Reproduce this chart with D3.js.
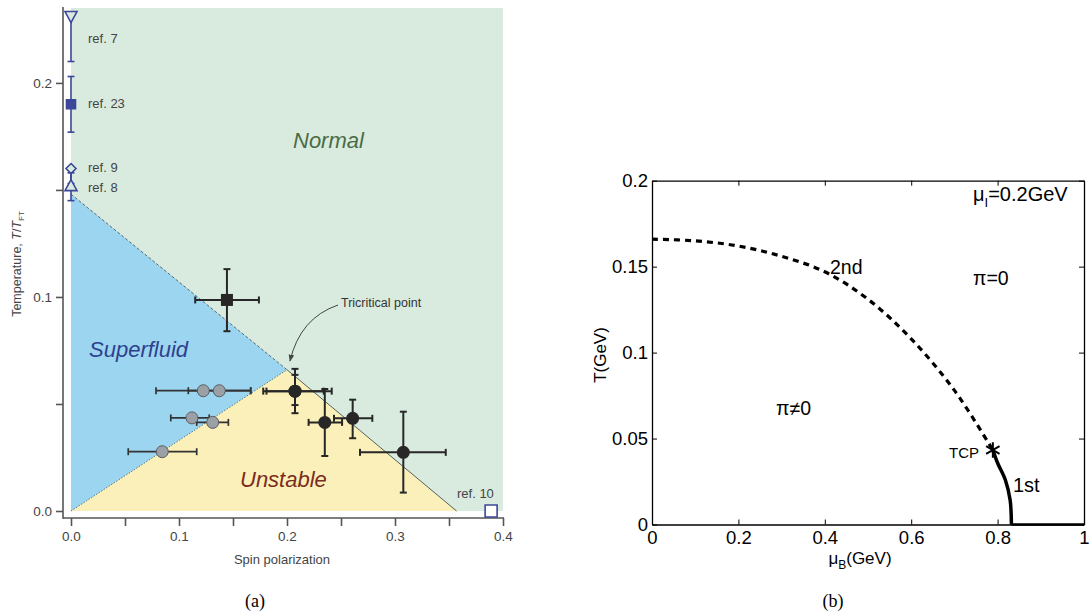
<!DOCTYPE html>
<html>
<head>
<meta charset="utf-8">
<script src="https://cdn.jsdelivr.net/npm/d3@7"></script>
<style>
  body { margin: 0; background: #fff; }
  svg { display: block; }
</style>
</head>
<body>
<div id="chart"></div>
<script>

// ---------- panel (a) : spin polarization vs temperature ----------
const xTicksA = [0, 0.05, 0.1, 0.15, 0.2, 0.25, 0.3, 0.35, 0.4];
const yTicksA = [0, 0.05, 0.1, 0.15, 0.2];
const labelledA = [0, 0.1, 0.2, 0.3, 0.4];

const tcpA = [0.2, 0.066];          // tricritical point
const superfluidTopT = 0.148;       // boundary hits P = 0
const unstableEndP = 0.357;         // boundary hits T = 0
const topT = 0.235;

// references on the axes (blue)
const refNames = ["ref. 7", "ref. 23", "ref. 9", "ref. 8", "ref. 10"];
const refP = [0, 0, 0, 0, 0.389];
const refT = [0.231, 0.190, 0.160, 0.152, 0.0];
const refTlo = [0.210, 0.177, 0.153, 0.145, null];
const refThi = [null, 0.203, null, 0.158, null];
const refShape = ["triDown", "square", "diamond", "triUp", "openSquare"];

// experiment, dark circles
const darkP = [0.2074, 0.2074, 0.235, 0.2608, 0.3077];
const darkT = [0.056, 0.056, 0.0414, 0.0433, 0.0274];
const darkPlo = [0.178, 0.181, 0.220, 0.2435, 0.2676];
const darkPhi = [0.234, 0.2414, 0.251, 0.279, 0.347];
const darkTlo = [0.0457, 0.0495, 0.0257, 0.034, 0.0086];
const darkThi = [0.0664, 0.0636, 0.057, 0.052, 0.0464];

// experiment, dark square
const sqP = [0.1444];
const sqT = [0.0986];
const sqPlo = [0.115];
const sqPhi = [0.174];
const sqTlo = [0.084];
const sqThi = [0.113];

// experiment, grey circles
const greyP = [0.1225, 0.1373, 0.112, 0.1312, 0.0845];
const greyT = [0.0562, 0.0562, 0.0435, 0.0414, 0.0277];
const greyPlo = [0.0787, 0.1086, 0.0924, 0.1164, 0.053];
const greyPhi = [0.1664, 0.1664, 0.128, 0.1457, 0.1164];

// ---------- panel (b) : mu_B vs T ----------
const xTicksB = [0, 0.2, 0.4, 0.6, 0.8, 1];
const yTicksB = [0, 0.05, 0.1, 0.15, 0.2];

const secondMu = [0, 0.1, 0.2, 0.3, 0.4, 0.5, 0.6, 0.7, 0.789];
const secondT = [0.166, 0.165, 0.162, 0.156, 0.147, 0.131, 0.108, 0.078, 0.0433];

const firstMu = [0.789, 0.800, 0.818, 0.829, 0.832];
const firstT = [0.0433, 0.0358, 0.0259, 0.0142, 0];

const floorMu = [0.832, 1.0];
const floorT = [0, 0];

const tcpB = [0.789, 0.0433];

const sans = "'Liberation Sans', Arial, Helvetica, sans-serif";
const serif = "'Liberation Serif', 'DejaVu Serif', serif";

const svg = d3.select("#chart")
    .append("svg")
    .attr("width", 1090)
    .attr("height", 616);

// ======================= panel (a) =======================
const xA = d3.scaleLinear().domain([0, 0.4]).range([71, 503]);
const yA = d3.scaleLinear().domain([0, topT]).range([511, 8]);
const lineA = d3.line().x(d => xA(d[0])).y(d => yA(d[1]));

const gA = svg.append("g");

// regions
gA.append("path")
    .attr("d", lineA([[0, 0], [0, topT], [0.4, topT], [0.4, 0]]) + "Z")
    .attr("fill", "#d9ebdf");

gA.append("path")
    .attr("d", lineA([[0, 0], [0, superfluidTopT], tcpA]) + "Z")
    .attr("fill", "#9bd5f0");

gA.append("path")
    .attr("d", lineA([[0, 0], tcpA, [unstableEndP, 0]]) + "Z")
    .attr("fill", "#fbf0ba");

// boundaries
gA.append("path")
    .attr("d", lineA([[0, superfluidTopT], tcpA]))
    .attr("fill", "none")
    .attr("stroke", "#4c5a66")
    .attr("stroke-width", 0.9)
    .attr("stroke-dasharray", "3,2");

gA.append("path")
    .attr("d", lineA([[0, 0], tcpA]))
    .attr("fill", "none")
    .attr("stroke", "#3f6a86")
    .attr("stroke-width", 0.9)
    .attr("stroke-dasharray", "1.5,1.5");

gA.append("path")
    .attr("d", lineA([tcpA, [unstableEndP, 0]]))
    .attr("fill", "none")
    .attr("stroke", "#55605a")
    .attr("stroke-width", 1);

// axes
const axisColor = "#555";

const xAxisA = d3.axisBottom(xA)
    .tickValues(xTicksA)
    .tickSize(8)
    .tickPadding(5)
    .tickFormat(d => labelledA.some(v => Math.abs(v - d) < 1e-9) ? d3.format(".1f")(d) : "");

const yAxisA = d3.axisLeft(yA)
    .tickValues(yTicksA)
    .tickSize(7)
    .tickPadding(4)
    .tickFormat(d => labelledA.some(v => Math.abs(v - d) < 1e-9) ? d3.format(".1f")(d) : "");

const xAxisGroupA = gA.append("g")
    .attr("transform", "translate(0, 518)")
    .call(xAxisA);

const yAxisGroupA = gA.append("g")
    .attr("transform", "translate(63, 0)")
    .call(yAxisA);

[xAxisGroupA, yAxisGroupA].forEach(g => {
    g.select(".domain").remove();
    g.selectAll(".tick line").attr("stroke", axisColor).attr("stroke-width", 1.6);
    g.selectAll(".tick text")
        .attr("fill", "#444")
        .style("font-family", sans)
        .style("font-size", "13.5px");
});

gA.append("line")
    .attr("x1", 63).attr("x2", 504)
    .attr("y1", 518).attr("y2", 518)
    .attr("stroke", axisColor).attr("stroke-width", 1.6);

gA.append("line")
    .attr("x1", 63).attr("x2", 63)
    .attr("y1", 7).attr("y2", 518.8)
    .attr("stroke", axisColor).attr("stroke-width", 1.6);

// axis titles
gA.append("text")
    .attr("x", 282)
    .attr("y", 564)
    .attr("text-anchor", "middle")
    .attr("fill", "#444")
    .style("font-family", sans)
    .style("font-size", "13px")
    .text("Spin polarization");

const yTitleA = gA.append("text")
    .attr("transform", "translate(20.5, 264) rotate(-90)")
    .attr("text-anchor", "middle")
    .attr("fill", "#444")
    .style("font-family", sans)
    .style("font-size", "12.5px");
yTitleA.append("tspan").text("Temperature, ");
yTitleA.append("tspan").attr("font-style", "italic").text("T");
yTitleA.append("tspan").text("/");
yTitleA.append("tspan").attr("font-style", "italic").text("T");
yTitleA.append("tspan").attr("dy", 3).style("font-size", "8px").text("FT");

// region labels
const regionLabels = [
    { text: "Normal", x: 293, y: 148, color: "#4b6b45" },
    { text: "Superfluid", x: 89, y: 357, color: "#2f3f8e" },
    { text: "Unstable", x: 240, y: 487, color: "#7c2b20" }
];
gA.selectAll(".region-label")
    .data(regionLabels)
    .join("text")
    .attr("class", "region-label")
    .attr("x", d => d.x)
    .attr("y", d => d.y)
    .attr("fill", d => d.color)
    .style("font-family", sans)
    .style("font-style", "italic")
    .style("font-size", "22px")
    .text(d => d.text);

// tricritical annotation
gA.append("text")
    .attr("x", 341)
    .attr("y", 307)
    .attr("fill", "#333")
    .style("font-family", sans)
    .style("font-size", "12.5px")
    .text("Tricritical point");

svg.append("defs").append("marker")
    .attr("id", "arrowA")
    .attr("viewBox", "0 0 10 10")
    .attr("refX", 9).attr("refY", 5)
    .attr("markerWidth", 7).attr("markerHeight", 7)
    .attr("orient", "auto")
    .append("path")
    .attr("d", "M0,1 L10,5 L0,9 Z")
    .attr("fill", "#444");

gA.append("path")
    .attr("d", "M338,305 Q300,318 290,361")
    .attr("fill", "none")
    .attr("stroke", "#444")
    .attr("stroke-width", 1)
    .attr("marker-end", "url(#arrowA)");

// error bar helpers
function hBar(g, p, lo, hi, t, color, w) {
    g.append("line")
        .attr("x1", xA(lo)).attr("x2", xA(hi))
        .attr("y1", yA(t)).attr("y2", yA(t))
        .attr("stroke", color).attr("stroke-width", w);
    [lo, hi].forEach(v => g.append("line")
        .attr("x1", xA(v)).attr("x2", xA(v))
        .attr("y1", yA(t) - 3.5).attr("y2", yA(t) + 3.5)
        .attr("stroke", color).attr("stroke-width", w));
}

function vBar(g, p, lo, hi, color, w) {
    const y1 = lo == null ? null : yA(lo);
    const y2 = hi == null ? null : yA(hi);
    g.append("line")
        .attr("x1", xA(p)).attr("x2", xA(p))
        .attr("y1", y1 == null ? yA(0) : y1)
        .attr("y2", y2 == null ? yA(0) : y2)
        .attr("stroke", color).attr("stroke-width", w);
    [y1, y2].forEach(y => {
        if (y == null) return;
        g.append("line")
            .attr("x1", xA(p) - 3.5).attr("x2", xA(p) + 3.5)
            .attr("y1", y).attr("y2", y)
            .attr("stroke", color).attr("stroke-width", w);
    });
}

const barsA = gA.append("g");
const dark = "#272727";

greyP.forEach((p, i) => hBar(barsA, p, greyPlo[i], greyPhi[i], greyT[i], "#333", 1.7));
sqP.forEach((p, i) => {
    hBar(barsA, p, sqPlo[i], sqPhi[i], sqT[i], dark, 2);
    vBar(barsA, p, sqTlo[i], sqThi[i], dark, 2);
});
darkP.forEach((p, i) => {
    hBar(barsA, p, darkPlo[i], darkPhi[i], darkT[i], dark, 2);
    vBar(barsA, p, darkTlo[i], darkThi[i], dark, 2);
});

// markers
gA.selectAll(".grey-pt")
    .data(greyP)
    .join("circle")
    .attr("class", "grey-pt")
    .attr("cx", d => xA(d))
    .attr("cy", (d, i) => yA(greyT[i]))
    .attr("r", 6)
    .attr("fill", "#9b9fa6")
    .attr("stroke", "#5a5d62")
    .attr("stroke-width", 1);

gA.selectAll(".sq-pt")
    .data(sqP)
    .join("rect")
    .attr("class", "sq-pt")
    .attr("x", d => xA(d) - 6)
    .attr("y", (d, i) => yA(sqT[i]) - 6)
    .attr("width", 12)
    .attr("height", 12)
    .attr("fill", dark);

gA.selectAll(".dark-pt")
    .data(darkP)
    .join("circle")
    .attr("class", "dark-pt")
    .attr("cx", d => xA(d))
    .attr("cy", (d, i) => yA(darkT[i]))
    .attr("r", 6.5)
    .attr("fill", dark);

// reference markers (blue)
const blue = "#3c4799";
const refG = gA.append("g");
refP.forEach((p, i) => {
    const cx = xA(p), cy = yA(refT[i]);
    const lo = refTlo[i], hi = refThi[i];
    if (lo != null) {
        const yLo = yA(lo), yHi = hi != null ? yA(hi) : cy;
        refG.append("line")
            .attr("x1", cx).attr("x2", cx).attr("y1", yLo).attr("y2", yHi)
            .attr("stroke", blue).attr("stroke-width", 1.6);
        refG.append("line")
            .attr("x1", cx - 3.5).attr("x2", cx + 3.5).attr("y1", yLo).attr("y2", yLo)
            .attr("stroke", blue).attr("stroke-width", 1.6);
        if (hi != null) {
            refG.append("line")
                .attr("x1", cx - 3.5).attr("x2", cx + 3.5).attr("y1", yHi).attr("y2", yHi)
                .attr("stroke", blue).attr("stroke-width", 1.6);
        }
    }
    const shape = refShape[i];
    let d;
    if (shape === "triDown") d = `M${cx - 6},${cy - 5} L${cx + 6},${cy - 5} L${cx},${cy + 6} Z`;
    if (shape === "triUp") d = `M${cx - 6},${cy + 5} L${cx + 6},${cy + 5} L${cx},${cy - 6} Z`;
    if (shape === "diamond") d = `M${cx},${cy - 5} L${cx + 5},${cy} L${cx},${cy + 5} L${cx - 5},${cy} Z`;
    if (shape === "square") d = `M${cx - 4.5},${cy - 4.5} h9 v9 h-9 Z`;
    if (shape === "openSquare") d = `M${cx - 6},${cy - 6} h12 v12 h-12 Z`;
    refG.append("path")
        .attr("d", d)
        .attr("fill", shape === "square" ? blue : (shape === "openSquare" ? "#fff" : "#d9ebdf"))
        .attr("stroke", blue)
        .attr("stroke-width", 1.6);
});

const refLabelPos = [[88, 43], [88, 108], [88, 172], [88, 192], [457, 498]];
refG.selectAll("text")
    .data(refNames)
    .join("text")
    .attr("x", (d, i) => refLabelPos[i][0])
    .attr("y", (d, i) => refLabelPos[i][1])
    .attr("fill", "#444")
    .style("font-family", sans)
    .style("font-size", "13px")
    .text(d => d);

svg.append("text")
    .attr("x", 255).attr("y", 607)
    .attr("text-anchor", "middle")
    .style("font-family", serif)
    .style("font-size", "18px")
    .text("(a)");

// ======================= panel (b) =======================
const xB = d3.scaleLinear().domain([0, 1]).range([652, 1084]);
const yB = d3.scaleLinear().domain([0, 0.2]).range([524.5, 180.7]);
const gB = svg.append("g");

const xAxisB = d3.axisBottom(xB).tickValues(xTicksB).tickSizeInner(-5).tickSizeOuter(0).tickPadding(6)
    .tickFormat(d => d3.format("~g")(d));
const yAxisB = d3.axisLeft(yB).tickValues(yTicksB).tickSizeInner(-5).tickSizeOuter(0).tickPadding(4)
    .tickFormat(d => d3.format("~g")(d));
const topAxisB = d3.axisTop(xB).tickValues(xTicksB).tickSizeInner(-5).tickSizeOuter(0).tickFormat("");
const rightAxisB = d3.axisRight(yB).tickValues(yTicksB).tickSizeInner(-5).tickSizeOuter(0).tickFormat("");

const axesB = [
    gB.append("g").attr("transform", `translate(0, ${yB(0)})`).call(xAxisB),
    gB.append("g").attr("transform", `translate(${xB(0)}, 0)`).call(yAxisB),
    gB.append("g").attr("transform", `translate(0, ${yB(0.2)})`).call(topAxisB),
    gB.append("g").attr("transform", `translate(${xB(1)}, 0)`).call(rightAxisB)
];
axesB.forEach(g => {
    g.select(".domain").attr("stroke", "#000").attr("stroke-width", 1.3);
    g.selectAll(".tick line").attr("stroke", "#000").attr("stroke-width", 1);
    g.selectAll(".tick text")
        .attr("fill", "#000")
        .style("font-family", sans)
        .style("font-size", "18.5px");
});

// curves
const lineB = d3.line().x(d => xB(d[0])).y(d => yB(d[1]));

gB.append("path")
    .attr("d", lineB.curve(d3.curveCatmullRom)(secondMu.map((m, i) => [m, secondT[i]])))
    .attr("fill", "none")
    .attr("stroke", "#000")
    .attr("stroke-width", 3.2)
    .attr("stroke-dasharray", "6,5");

gB.append("path")
    .attr("d", lineB.curve(d3.curveCatmullRom)(firstMu.map((m, i) => [m, firstT[i]])))
    .attr("fill", "none")
    .attr("stroke", "#000")
    .attr("stroke-width", 3.5);

gB.append("path")
    .attr("d", lineB.curve(d3.curveLinear)(floorMu.map((m, i) => [m, floorT[i]])))
    .attr("fill", "none")
    .attr("stroke", "#000")
    .attr("stroke-width", 2.6);

gB.append("path")
    .attr("transform", `translate(${xB(tcpB[0])}, ${yB(tcpB[1])})`)
    .attr("d", d3.symbol(d3.symbolAsterisk).size(170)())
    .attr("fill", "none")
    .attr("stroke", "#000")
    .attr("stroke-width", 2);

// annotations
function addText(g, x, y, size, parts, anchor) {
    const t = g.append("text")
        .attr("x", x).attr("y", y)
        .attr("text-anchor", anchor || "start")
        .attr("fill", "#000")
        .style("font-family", sans)
        .style("font-size", size + "px");
    parts.forEach(p => {
        const s = t.append("tspan").text(p.text);
        if (p.sub) s.attr("dy", p.dy).style("font-size", p.sub + "px");
        if (p.back) s.attr("dy", p.back);
    });
    return t;
}

addText(gB, 973, 201, 20, [{ text: "\u03bc" }, { text: "I", sub: 13, dy: 6 }, { text: "=0.2GeV", back: -6 }]);
addText(gB, 830, 274, 19.5, [{ text: "2nd" }]);
addText(gB, 973, 285, 19.5, [{ text: "\u03c0=0" }]);
addText(gB, 776, 415, 19.5, [{ text: "\u03c0\u22600" }]);
addText(gB, 949, 458, 15, [{ text: "TCP" }]);
addText(gB, 1013, 492, 20, [{ text: "1st" }]);

addText(gB, 860, 564, 17, [{ text: "\u03bc" }, { text: "B", sub: 12, dy: 5 }, { text: "(GeV)", back: -5 }], "middle");

gB.append("text")
    .attr("transform", "translate(606, 355) rotate(-90)")
    .attr("text-anchor", "middle")
    .attr("fill", "#000")
    .style("font-family", sans)
    .style("font-size", "17px")
    .text("T(GeV)");

svg.append("text")
    .attr("x", 833).attr("y", 607)
    .attr("text-anchor", "middle")
    .style("font-family", serif)
    .style("font-size", "18px")
    .text("(b)");

</script>
</body>
</html>
